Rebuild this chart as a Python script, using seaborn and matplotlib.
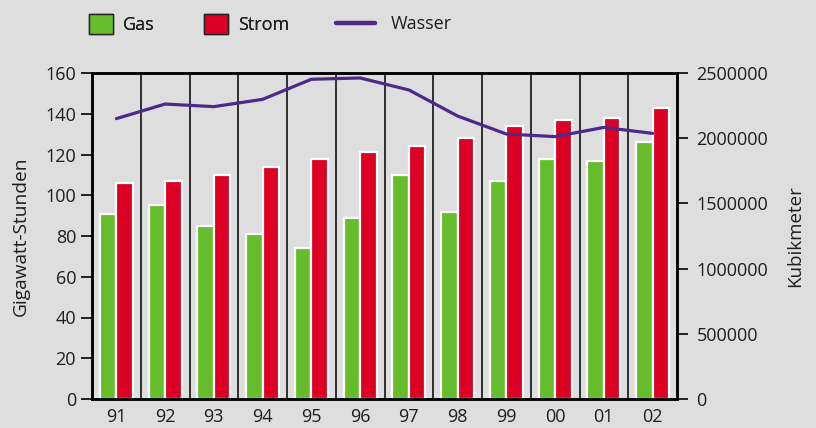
import numpy as np
import pandas as pd
import matplotlib
matplotlib.use("Agg")
import matplotlib.pyplot as plt
import seaborn as sns
from matplotlib.patches import Patch
from matplotlib.lines import Line2D

# chart data
years = ["91", "92", "93", "94", "95", "96", "97", "98", "99", "00", "01", "02"]
gas = [91, 95, 85, 81, 74, 89, 110, 92, 107, 118, 117, 126]
strom = [106, 107, 110, 114, 118, 121, 124, 128, 134, 137, 138, 143]
wasser = [2150000, 2262000, 2242000, 2298000, 2452000, 2462000,
          2370000, 2170000, 2032000, 2012000, 2083000, 2037000]

BG = "#dedede"
GREEN = "#66bd2b"
RED = "#dc0025"
PURPLE = "#4b2a8a"
TXT = "#1e1e1e"

sns.set_theme(style="white")
plt.rcParams["font.family"] = ["Open Sans", "DejaVu Sans"]
plt.rcParams["font.size"] = 13

df = pd.DataFrame({
    "Jahr": years * 2,
    "Wert": gas + strom,
    "Art": ["Gas"] * len(years) + ["Strom"] * len(years),
})

fig = plt.figure(figsize=(8.16, 4.28), dpi=100, facecolor=BG)
ax = fig.add_axes([92 / 816, 1 - 399 / 428, (677 - 92) / 816, (399 - 73) / 428])
ax.set_facecolor(BG)

sns.barplot(data=df, x="Jahr", y="Wert", hue="Art", order=years,
            palette={"Gas": GREEN, "Strom": RED}, width=0.68,
            edgecolor="white", linewidth=1.6, saturation=1, ax=ax, legend=False)

# vertical separators between years
for i in range(1, len(years)):
    ax.axvline(i - 0.5, color="black", lw=1.1, zorder=0.5)

ax.set_xlim(-0.5, len(years) - 0.5)
ax.set_ylim(0, 160)
ax.set_yticks(np.arange(0, 161, 20))
ax.set_xlabel("")
ax.set_ylabel("Gigawatt-Stunden", color=TXT, fontsize=13.8, labelpad=11)
ax.tick_params(axis="y", direction="out", length=8, width=1.2, color="black",
               labelcolor=TXT, labelsize=13, left=True, pad=3.5)
ax.tick_params(axis="x", length=0, labelcolor=TXT, labelsize=13, pad=6.5)

ax2 = ax.twinx()
sns.lineplot(x=np.arange(len(years)), y=wasser, color=PURPLE, lw=2.3, ax=ax2)
ax2.set_ylim(0, 2500000)
ax2.set_yticks(np.arange(0, 2500001, 500000))
ax2.set_yticklabels([str(v) for v in range(0, 2500001, 500000)])
ax2.set_ylabel("Kubikmeter", color=TXT, fontsize=13.5, labelpad=13)
ax2.tick_params(axis="y", direction="out", length=8, width=1.2, color="black",
                labelcolor=TXT, labelsize=13, right=True, pad=6)

for a in (ax, ax2):
    for s in a.spines.values():
        s.set_color("black")
        s.set_linewidth(1.8)

# legend
fs_px = 13 * 100 / 72
h1 = [Patch(facecolor=GREEN, edgecolor="#222222", lw=1.0, label="Gas"),
      Patch(facecolor=RED, edgecolor="#222222", lw=1.0, label="Strom")]
leg1 = fig.legend(handles=h1, loc="center left", ncol=2, frameon=False,
                  bbox_to_anchor=(89 / 816, 1 - 24 / 428), borderaxespad=0,
                  borderpad=0, handlelength=24 / fs_px, handleheight=23 / fs_px,
                  handletextpad=0.55, columnspacing=2.75, fontsize=13,
                  labelcolor=TXT)
h2 = [Line2D([], [], color=PURPLE, lw=3.2, label="Wasser")]
fig.legend(handles=h2, loc="center left", frameon=False,
           bbox_to_anchor=(336 / 816, 1 - 24 / 428), borderaxespad=0,
           borderpad=0, handlelength=39 / fs_px, handletextpad=0.85,
           fontsize=13, labelcolor=TXT)
fig.add_artist(leg1)

fig.savefig("out.png", dpi=100, facecolor=BG)
